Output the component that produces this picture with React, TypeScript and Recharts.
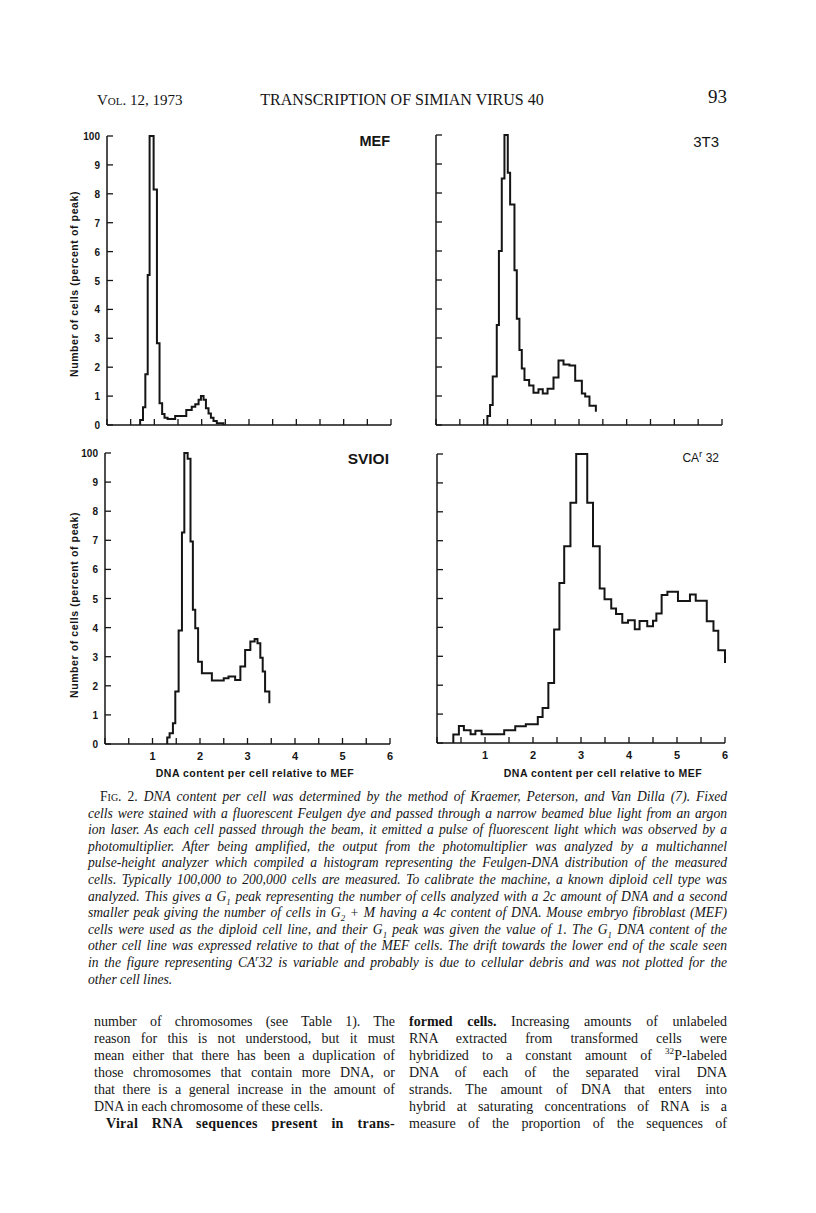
import React from 'react';
import { LineChart, Line, XAxis, YAxis } from 'recharts';

const yTicks = [0, 10, 20, 30, 40, 50, 60, 70, 80, 90, 100];
const yTickLabels = ['0', '1', '2', '3', '4', '5', '6', '7', '8', '9', '100'];
const xTicks = [0, 0.5, 1, 1.5, 2, 2.5, 3, 3.5, 4, 4.5, 5, 5.5, 6];
const xTickLabels = ['', '', '1', '', '2', '', '3', '', '4', '', '5', '', '6'];

// MEF histogram (bin left edge, percent of peak)
const mefX = [0.7, 0.7, 0.76, 0.81, 0.86, 0.9, 0.985, 1.055, 1.11, 1.165, 1.215, 1.28, 1.44, 1.675, 1.79, 1.865, 1.935, 1.985, 2.04, 2.09, 2.145, 2.195, 2.25, 2.32, 2.46];
const mefY = [0, 1.7, 6.1, 17.6, 51.9, 100, 81.5, 28.3, 7.5, 3.8, 2.5, 2.1, 3.1, 5.2, 6.3, 7.2, 8.7, 10, 8.7, 5.8, 4.0, 2.5, 1.4, 0.6, 0];

// 3T3
const t3X = [1.078, 1.078, 1.134, 1.19, 1.275, 1.32, 1.38, 1.436, 1.506, 1.555, 1.646, 1.695, 1.75, 1.8, 1.856, 1.954, 2.045, 2.15, 2.24, 2.34, 2.465, 2.57, 2.675, 2.8, 2.92, 3.06, 3.13, 3.22, 3.354];
const t3Y = [0, 3.1, 6.9, 16.7, 34.5, 60, 85, 100, 87, 76, 53.4, 36.6, 25.9, 19.5, 15.5, 13.6, 11.1, 12.3, 10.9, 12.5, 16.4, 22.2, 20.9, 20.5, 15.3, 10.9, 9.8, 6.6, 4.6];

// SV101
const svX = [1.31, 1.31, 1.36, 1.43, 1.48, 1.55, 1.62, 1.67, 1.74, 1.8, 1.85, 1.9, 1.96, 2.04, 2.25, 2.5, 2.6, 2.74, 2.85, 2.95, 3.06, 3.15, 3.21, 3.27, 3.32, 3.37, 3.46];
const svY = [0, 2.2, 3.7, 7.1, 18, 39, 72.7, 100, 98, 69.6, 46.1, 39.8, 28.3, 24.3, 21.8, 22.6, 23.2, 22, 26.6, 32.3, 35.2, 36.1, 34.6, 29.6, 24.9, 18, 14];

// CAr32
const caX = [0.34, 0.34, 0.456, 0.56, 0.7, 0.8, 0.93, 1.4, 1.63, 1.85, 2.1, 2.2, 2.32, 2.44, 2.55, 2.65, 2.78, 2.9, 3.13, 3.25, 3.39, 3.49, 3.63, 3.73, 3.86, 3.98, 4.12, 4.22, 4.38, 4.5, 4.57, 4.68, 4.8, 5.02, 5.27, 5.39, 5.62, 5.76, 5.86, 6.0];
const caY = [0, 2.9, 5.9, 4.4, 3.0, 4.2, 3.0, 4.4, 5.8, 6.5, 9.0, 12.1, 20.8, 39.3, 55.4, 68.1, 83.1, 100, 83.1, 68.1, 53.5, 49.7, 46.5, 44.6, 41.6, 42.5, 39.4, 42.2, 40.4, 42.3, 44.8, 51.2, 52.3, 49.1, 51.4, 49.2, 42.1, 38.8, 32.1, 27.7];

const toSeries = (xs: number[], ys: number[]) => xs.map((x, i) => ({ x, y: ys[i] }));

const INK = '#151515';
const SANS = '"Liberation Sans", Arial, sans-serif';

const XTick = (props: any) => {
  const { x, y, payload, showLabel } = props;
  const label = xTickLabels[xTicks.indexOf(payload.value)];
  return (
    <g>
      <line x1={x} y1={y} x2={x} y2={y - 6} stroke={INK} strokeWidth={1.3} />
      {showLabel && label && (
        <text x={x} y={y + 16} textAnchor="middle" fontSize={11} fontFamily={SANS} fontWeight="bold" fill={INK}>
          {label}
        </text>
      )}
    </g>
  );
};

const YTick = (props: any) => {
  const { x, y, payload, showLabel } = props;
  const label = yTickLabels[yTicks.indexOf(payload.value)];
  return (
    <g>
      <line x1={x} y1={y} x2={x + 6} y2={y} stroke={INK} strokeWidth={1.3} />
      {showLabel && (
        <text x={x - 7} y={y + 4} textAnchor="end" fontSize={10} fontFamily={SANS} fontWeight="bold" fill={INK}>
          {label}
        </text>
      )}
    </g>
  );
};

interface PanelProps {
  plot: { x: number; y: number; w: number; h: number };
  data: { x: number; y: number }[];
  yLabels: boolean;
  xLabels: boolean;
}

function Panel({ plot, data, yLabels, xLabels }: PanelProps) {
  const yw = 40;
  const xh = 30;
  const m = { top: 12, right: 12, bottom: 0, left: 10 };
  return (
    <div style={{ position: 'absolute', left: plot.x - m.left - yw, top: plot.y - m.top }}>
      <LineChart width={plot.w + m.left + m.right + yw} height={plot.h + m.top + xh} data={data} margin={m}>
        <XAxis
          type="number"
          dataKey="x"
          domain={[0, 6]}
          ticks={xTicks}
          interval={0}
          height={xh}
          tickSize={0}
          tickMargin={0}
          tickLine={false}
          axisLine={{ stroke: INK, strokeWidth: 1.5 }}
          tick={(p: any) => <XTick {...p} showLabel={xLabels} />}
        />
        <YAxis
          type="number"
          domain={[0, 100]}
          ticks={yTicks}
          interval={0}
          width={yw}
          tickSize={0}
          tickMargin={0}
          tickLine={false}
          axisLine={{ stroke: INK, strokeWidth: 1.5 }}
          tick={(p: any) => <YTick {...p} showLabel={yLabels} />}
        />
        <Line type="stepAfter" dataKey="y" stroke={INK} strokeWidth={2} dot={false} isAnimationActive={false} />
      </LineChart>
    </div>
  );
}

const yTitle = 'Number of cells (percent of peak)';
const xTitle = 'DNA content per cell relative to MEF';

const captionLines: React.ReactNode[] = [
  <>
    <span style={{ fontStyle: 'normal', fontVariant: 'small-caps' }}>Fig.</span>
    <span style={{ fontStyle: 'normal' }}> 2. </span>DNA content per cell was determined by the method of Kraemer, Peterson, and Van Dilla (7). Fixed
  </>,
  'cells were stained with a fluorescent Feulgen dye and passed through a narrow beamed blue light from an argon',
  'ion laser. As each cell passed through the beam, it emitted a pulse of fluorescent light which was observed by a',
  'photomultiplier. After being amplified, the output from the photomultiplier was analyzed by a multichannel',
  'pulse-height analyzer which compiled a histogram representing the Feulgen-DNA distribution of the measured',
  'cells. Typically 100,000 to 200,000 cells are measured. To calibrate the machine, a known diploid cell type was',
  <>analyzed. This gives a G<sub>1</sub> peak representing the number of cells analyzed with a 2c amount of DNA and a second</>,
  <>smaller peak giving the number of cells in G<sub>2</sub> + M having a 4c content of DNA. Mouse embryo fibroblast (MEF)</>,
  <>cells were used as the diploid cell line, and their G<sub>1</sub> peak was given the value of 1. The G<sub>1</sub> DNA content of the</>,
  'other cell line was expressed relative to that of the MEF cells. The drift towards the lower end of the scale seen',
  <>in the figure representing CA<sup>r</sup>32 is variable and probably is due to cellular debris and was not plotted for the</>,
  'other cell lines.',
];

const leftBody: React.ReactNode[] = [
  'number of chromosomes (see Table 1). The',
  'reason for this is not understood, but it must',
  'mean either that there has been a duplication of',
  'those chromosomes that contain more DNA, or',
  'that there is a general increase in the amount of',
  'DNA in each chromosome of these cells.',
  <b style={{ letterSpacing: 0.3 }}>Viral RNA sequences present in trans-</b>,
];

const rightBody: React.ReactNode[] = [
  <>
    <b>formed cells.</b> Increasing amounts of unlabeled
  </>,
  'RNA extracted from transformed cells were',
  <>hybridized to a constant amount of <sup>32</sup>P-labeled</>,
  'DNA of each of the separated viral DNA',
  'strands. The amount of DNA that enters into',
  'hybrid at saturating concentrations of RNA is a',
  'measure of the proportion of the sequences of',
];

const subStyle = `
  sub, sup { font-size: 0.65em; line-height: 0; }
`;

function TextLines({ lines, left, top, width, lineHeight, fontSize, italic, lastFlush, indentFirst, indentLast }: any) {
  return (
    <div style={{ position: 'absolute', left, top, width, fontSize, lineHeight: `${lineHeight}px`, fontStyle: italic ? 'italic' : 'normal' }}>
      {lines.map((ln: React.ReactNode, i: number) => {
        const isFlush = lastFlush.includes(i);
        const indent = (i === 0 && indentFirst) || (i === lines.length - 1 && indentLast) ? 12 : 0;
        return (
          <div
            key={i}
            style={{
              height: lineHeight,
              paddingLeft: indent,
              textAlign: isFlush ? 'left' : 'justify',
              textAlignLast: isFlush ? 'left' : 'justify',
              whiteSpace: 'nowrap',
            }}
          >
            {ln}
          </div>
        );
      })}
    </div>
  );
}

export default function App() {
  const panels = [
    { plot: { x: 107, y: 136, w: 284, h: 289 }, data: toSeries(mefX, mefY), yLabels: true, xLabels: false },
    { plot: { x: 436, y: 135, w: 286, h: 290 }, data: toSeries(t3X, t3Y), yLabels: false, xLabels: false },
    { plot: { x: 105, y: 453, w: 285, h: 291 }, data: toSeries(svX, svY), yLabels: true, xLabels: true },
    { plot: { x: 437, y: 454, w: 288, h: 289 }, data: toSeries(caX, caY), yLabels: false, xLabels: true },
  ];

  return (
    <div
      style={{
        position: 'absolute',
        left: 0,
        top: 0,
        width: 816,
        height: 1213,
        background: '#fff',
        color: INK,
        fontFamily: '"Liberation Serif", "Times New Roman", serif',
        overflow: 'hidden',
      }}
    >
      <style>{subStyle}</style>

      {/* running head */}
      <div style={{ position: 'absolute', left: 97, top: 92, fontSize: 15, fontVariant: 'small-caps' }}>Vol. 12, 1973</div>
      <div style={{ position: 'absolute', left: 252, width: 300, top: 91, fontSize: 16, textAlign: 'center' }}>
        TRANSCRIPTION OF SIMIAN VIRUS 40
      </div>
      <div style={{ position: 'absolute', right: 816 - 727, top: 86, fontSize: 19 }}>93</div>

      {panels.map((p, i) => (
        <Panel key={i} {...p} />
      ))}

      {/* panel names */}
      <div style={{ position: 'absolute', right: 816 - 390, top: 133, fontFamily: SANS, fontWeight: 'bold', fontSize: 14.5 }}>MEF</div>
      <div style={{ position: 'absolute', right: 816 - 719, top: 133, fontFamily: SANS, fontSize: 15 }}>3T3</div>
      <div style={{ position: 'absolute', right: 816 - 389, top: 450, fontFamily: SANS, fontWeight: 'bold', fontSize: 15.5 }}>SVIOI</div>
      <div style={{ position: 'absolute', right: 816 - 719, top: 451, fontFamily: SANS, fontSize: 12 }}>
        CA<sup style={{ fontSize: '0.8em' }}>r</sup> 32
      </div>

      {/* y-axis titles */}
      {[284, 605].map((cy) => (
        <div
          key={cy}
          style={{
            position: 'absolute',
            left: 74,
            top: cy,
            transform: 'translate(-50%, -50%) rotate(-90deg)',
            whiteSpace: 'nowrap',
            fontFamily: SANS,
            fontWeight: 'bold',
            fontSize: 10.5,
            letterSpacing: 0.6,
          }}
        >
          {yTitle}
        </div>
      ))}

      {/* x-axis titles */}
      {[255, 603].map((cx) => (
        <div
          key={cx}
          style={{
            position: 'absolute',
            left: cx,
            top: 773,
            transform: 'translate(-50%, -50%)',
            whiteSpace: 'nowrap',
            fontFamily: SANS,
            fontWeight: 'bold',
            fontSize: 10.5,
            letterSpacing: 0.5,
          }}
        >
          {xTitle}
        </div>
      ))}

      <TextLines lines={captionLines} left={88} top={789} width={639} lineHeight={16.6} fontSize={13.6} italic lastFlush={[11]} indentFirst />
      <TextLines lines={leftBody} left={94} top={1013} width={301} lineHeight={17} fontSize={14} lastFlush={[5]} indentLast />
      <TextLines lines={rightBody} left={409} top={1013} width={318} lineHeight={17} fontSize={14} lastFlush={[]} />
    </div>
  );
}
